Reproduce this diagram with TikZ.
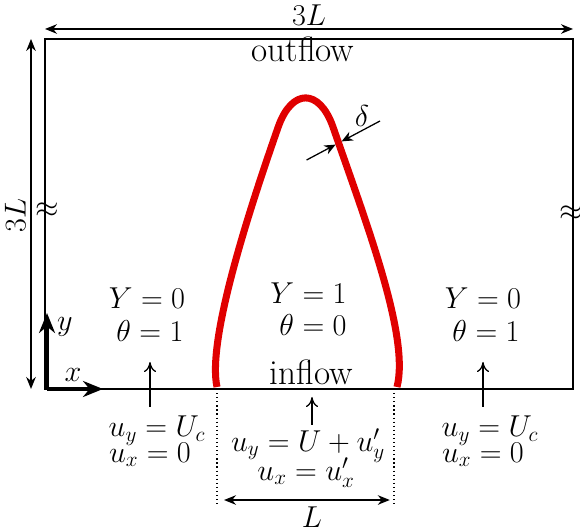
\RequirePackage{fix-cm}
\documentclass[tikz,border=0pt]{standalone}
\usepackage{tikz}
\usetikzlibrary{arrows.meta,positioning,calc}
\definecolor{rouge}{HTML}{E00000}

\begin{document}
\begin{tikzpicture}[
  font=\fontsize{21.5}{24}\selectfont,
  mot/.style={font=\fontsize{25}{27}\selectfont,anchor=base},
  eq/.style={anchor=base,inner sep=0pt},
  dim/.style={{Stealth[length=3mm,width=2.4mm]}-{Stealth[length=3mm,width=2.4mm]},line width=0.9pt},
  vit/.style={-{To[length=2.5mm,width=3mm]},line width=0.9pt},
  axe/.style={-{Stealth[length=5mm,width=4mm]},line width=2.6pt},
  flamme/.style={rouge,line width=5pt,line join=round},
  fleche/.style={-{Stealth[length=2.8mm,width=2.4mm]},line width=0.9pt}]
  \useasboundingbox (-1.125,-3.475) rectangle (13.375,9.725);
  % Domaine
  \coordinate (sw) at (0,0);
  \coordinate (ne) at (13.2,8.75);
  \draw[line width=1.2pt] (sw) rectangle (ne);
  \node[mot] (sortie) at (6.45,8.18) {outflow};
  \node[mot] (entree) at (6.66,0.1) {inflow};
  % Coupures
  \node (cg) at (0.05,4.475) {$\approx$};
  \node (cd) at (13.15,4.4) {$\approx$};
  % Cotes 3L
  \coordinate (h1) at (0,9.0);
  \coordinate (h2) at (13.2,9.0);
  \draw[dim] (h1) -- node[above=-1pt] (lh) {$3L$} (h2);
  \coordinate (v1) at (-0.35,8.75);
  \coordinate (v2) at (-0.35,0);
  \draw[dim] (v1) -- node[rotate=90,above=-1pt] (lv) {$3L$} (v2);
  % Flamme
  \draw[flamme] (4.3,0.05) .. controls (4.05,1.2) and (5.06,4.35) .. (5.83,6.55)
    .. controls (6.17,7.52) and (6.86,7.52) .. (7.2,6.55)
    .. controls (8.05,4.1) and (9.12,1.3) .. (8.8,0.05);
  % Epaisseur delta
  \coordinate (d1) at (6.54,5.725);
  \coordinate (d2) at (8.375,6.7);
  \coordinate (d1e) at ($(d1)!0.395!(d2)$);
  \coordinate (d2e) at ($(d1)!0.477!(d2)$);
  \draw[fleche] (d1) -- (d1e);
  \draw[fleche] (d2) -- (d2e);
  \node (delta) at (7.925,6.83) {$\delta$};
  % Zones
  \node[eq] (zg1) at (2.55,2.0) {$Y=0$};
  \node[eq] (zg2) at (2.625,1.175) {$\theta=1$};
  \node[eq] (zc1) at (6.5875,2.125) {$Y=1$};
  \node[eq] (zc2) at (6.7,1.325) {$\theta=0$};
  \node[eq] (zd1) at (10.95,2.0) {$Y=0$};
  \node[eq] (zd2) at (11.025,1.175) {$\theta=1$};
  % Conditions d'entree
  \node[eq] (bg1) at (2.8,-1.2) {$u_y=U_c$};
  \node[eq] (bg2) at (2.625,-1.825) {$u_x=0$};
  \node[eq] (bc1) at (6.575,-1.55) {$u_y=U+u'_y$};
  \node[eq] (bc2) at (6.525,-2.275) {$u_x=u'_x$};
  \node[eq] (bd1) at (11.125,-1.2) {$u_y=U_c$};
  \node[eq] (bd2) at (10.95,-1.825) {$u_x=0$};
  \coordinate (ag) at (2.625,-0.45);
  \coordinate (tg) at (2.625,0.675);
  \coordinate (ac) at (6.675,-0.9);
  \coordinate (tc) at (6.675,-0.2);
  \coordinate (ad) at (10.95,-0.45);
  \coordinate (td) at (10.95,0.675);
  \draw[vit] (ag) -- (tg);
  \draw[vit] (ac) -- (tc);
  \draw[vit] (ad) -- (td);
  % Largeur L
  \coordinate (l1) at (4.3,0);
  \coordinate (l2) at (8.725,0);
  \coordinate (l1b) at (4.3,-2.9);
  \coordinate (l2b) at (8.725,-2.9);
  \draw[dotted,line width=0.9pt] (l1) -- (l1b);
  \draw[dotted,line width=0.9pt] (l2) -- (l2b);
  \draw[dim,shorten <=5pt,shorten >=3pt] ($(l1)!0.957!(l1b)$) -- ($(l2)!0.957!(l2b)$);
  \node (ll) at (6.675,-3.2) {$L$};
  % Axes
  \coordinate (o) at (0.05,0);
  \coordinate (xa) at (1.45,0);
  \coordinate (ya) at (0.05,1.9);
  \draw[axe] (o) -- (xa);
  \draw[axe] (o) -- (ya);
  \node (xl) at (0.7,0.35) {$x$};
  \node (yl) at (0.5,1.55) {$y$};
\end{tikzpicture}
\end{document}
